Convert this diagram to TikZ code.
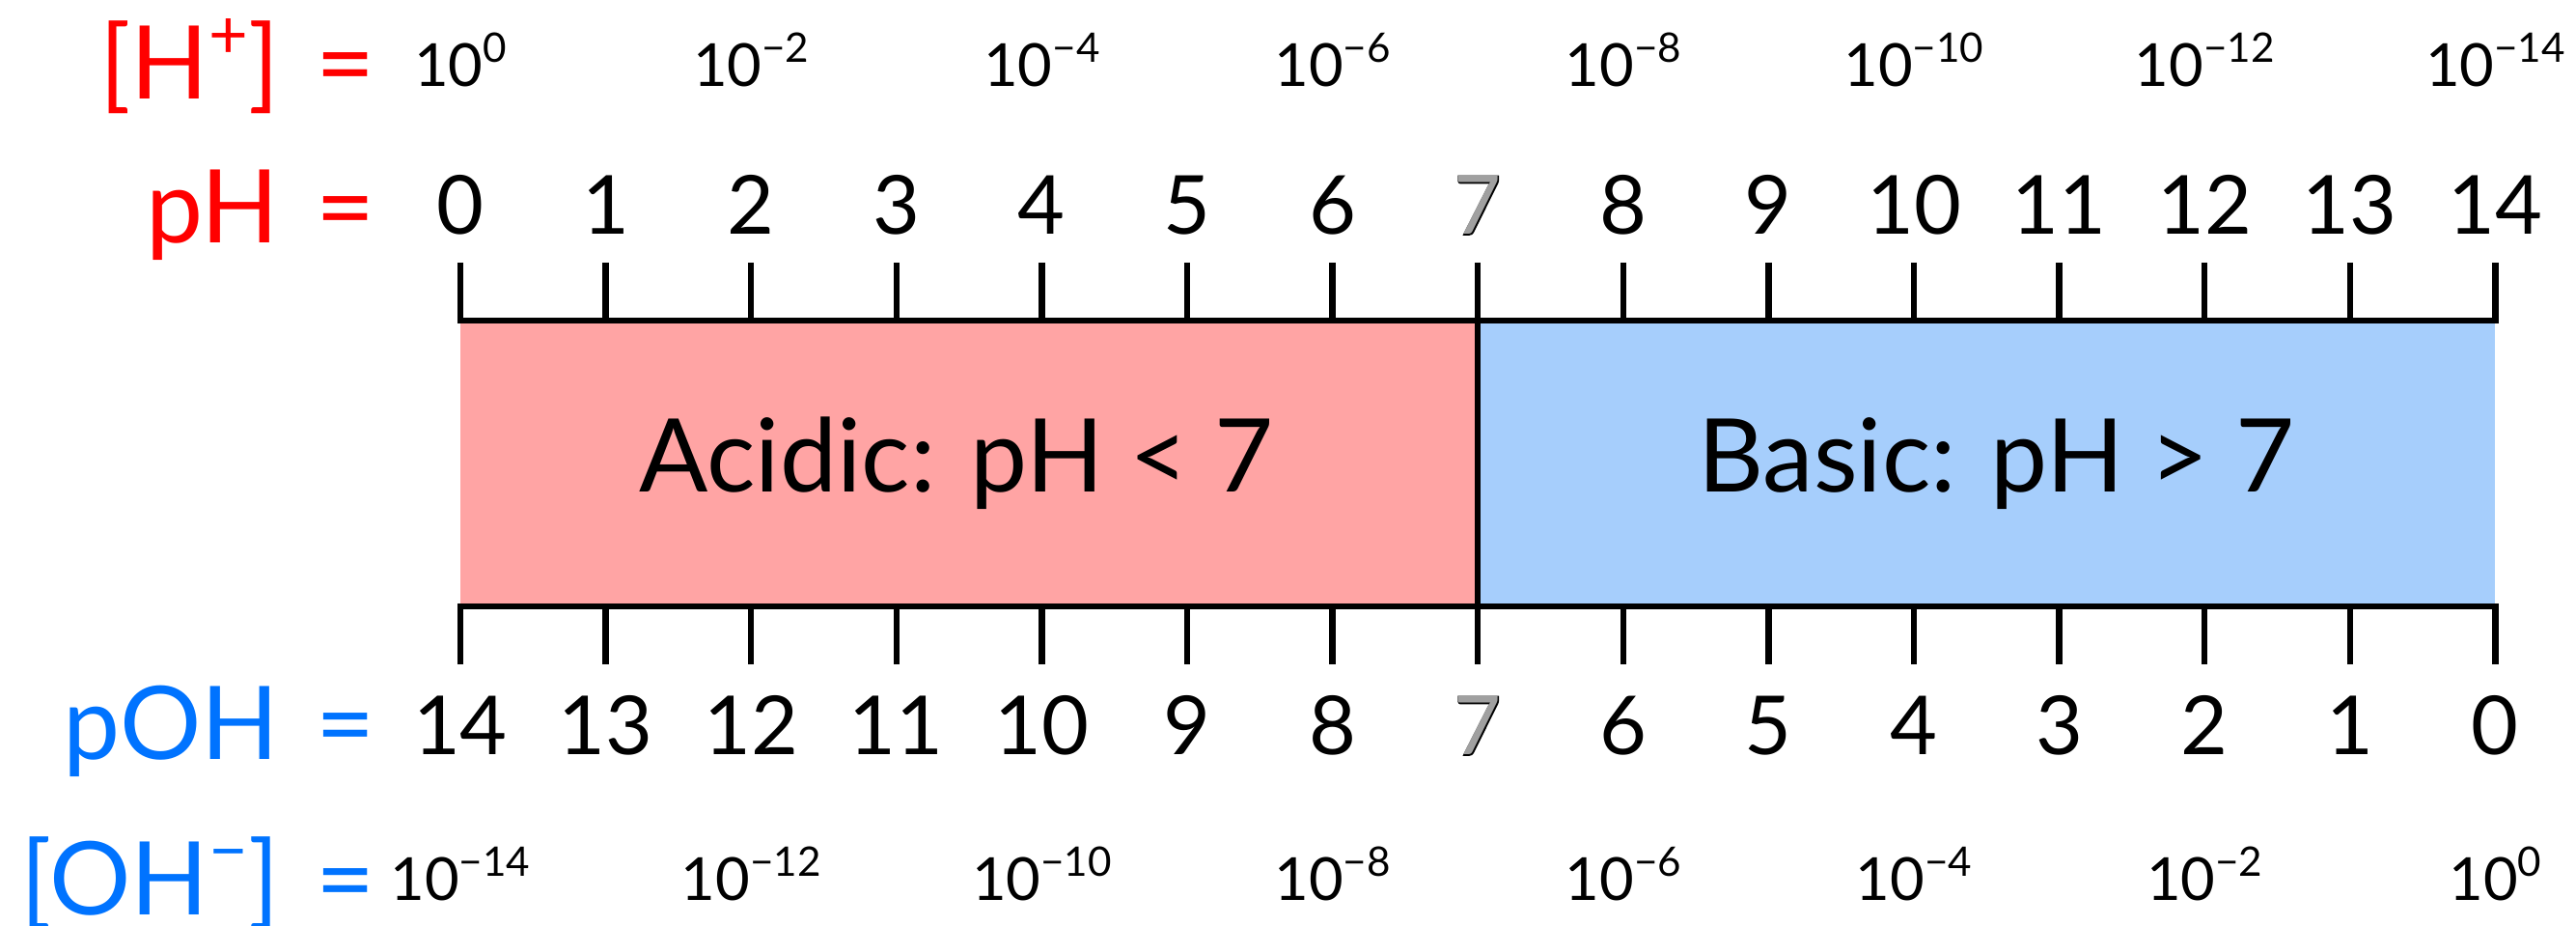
\documentclass[tikz,border=0pt]{standalone}
\usepackage{fontspec}
\setmainfont{Lato}
\newfontface\heavyseven[FakeBold=2]{Lato}
\usepackage{tikz}
\usetikzlibrary{positioning, calc}
\usepackage{xcolor}
\definecolor{phred}{HTML}{FF0000}
\definecolor{pohblue}{HTML}{0073FF}
\definecolor{acidfill}{HTML}{FFA4A4}
\definecolor{basefill}{HTML}{A6CEFC}
\definecolor{sevengray}{HTML}{A0A0A0}
\newcommand{\tenpow}[1]{10\raisebox{0.42em}{\fontsize{12}{12}\selectfont #1}}
\newcommand{\ionsup}[1]{\raisebox{12pt}{\fontsize{20}{20}\selectfont #1}}
\newcommand{\hollowseven}{\rlap{\heavyseven 7}{\color{sevengray}7}}

\begin{document}
\begin{tikzpicture}[every node/.style={inner sep=0pt},
    rowlabel/.style={font=\fontsize{30}{30}\selectfont, anchor=base east},
    eqsign/.style={font=\fontsize{30}{30}\selectfont, anchor=base},
    phnum/.style={font=\fontsize{24}{24}\selectfont, anchor=base},
    powlabel/.style={font=\fontsize{17.5}{17.5}\selectfont, anchor=base},
    scaleline/.style={line width=1.85pt}]
        \useasboundingbox (-4.77,-6.27) rectangle (21.92,3.32);
        % coloured halves
        \fill[acidfill] (0,0) rectangle (7*1.506,-2.96);
        \fill[basefill] (7*1.506,0) rectangle (14*1.506,-2.96);
        \node[font=\fontsize{30}{30}\selectfont] (acid) at (3.5*1.506-0.13,-1.48) {Acidic: pH < 7};
        \node[font=\fontsize{30}{30}\selectfont] (basic) at (10.5*1.506+0.1,-1.48) {Basic: pH > 7};
        % scale lines
        \draw[scaleline] (0,0.6) -- (0,0) -- (14*1.506,0) -- (14*1.506,0.6);
        \draw[scaleline] (0,-3.56) -- (0,-2.96) -- (14*1.506,-2.96) -- (14*1.506,-3.56);
        \draw[scaleline] (7*1.506,0.6) -- (7*1.506,-3.56);
        \foreach \i in {1,...,13} {
          \draw[scaleline] (\i*1.506,0.6) -- (\i*1.506,0);
          \draw[scaleline] (\i*1.506,-2.96) -- (\i*1.506,-3.56);
        }
        % numbers
        \foreach \i in {0,...,14} {
          \pgfmathtruncatemacro{\j}{14-\i}
          \node[phnum] (ph\i) at (\i*1.506,0.89) {\ifnum\i=7 \hollowseven\else\i\fi};
          \node[phnum] (poh\i) at (\i*1.506,-4.50) {\ifnum\j=7 \hollowseven\else\j\fi};
        }
        \foreach \i in {0,2,...,14} {
          \pgfmathtruncatemacro{\j}{14-\i}
          \node[powlabel] (hconc\i) at (\i*1.506,2.42) {\ifnum\i=0 \tenpow{0}\else\tenpow{−\i}\fi};
          \node[powlabel] (ohconc\i) at (\i*1.506,-6.01) {\ifnum\j=0 \tenpow{0}\else\tenpow{−\j}\fi};
        }
        % row labels
        \node[rowlabel, text=phred] (hlabel) at (-1.87,2.29) {[H\ionsup{+}]};
        \node[eqsign, text=phred] (heq) at (-1.19,2.29) {=};
        \node[rowlabel, text=phred] (phlabel) at (-1.87,0.80) {pH};
        \node[eqsign, text=phred] (pheq) at (-1.19,0.80) {=};
        \node[rowlabel, text=pohblue] (pohlabel) at (-1.87,-4.55) {pOH};
        \node[eqsign, text=pohblue] (poheq) at (-1.19,-4.55) {=};
        \node[rowlabel, text=pohblue] (ohlabel) at (-1.87,-6.16) {[OH\ionsup{−}]};
        \node[eqsign, text=pohblue] (oheq) at (-1.19,-6.16) {=};
      \end{tikzpicture}
\end{document}
